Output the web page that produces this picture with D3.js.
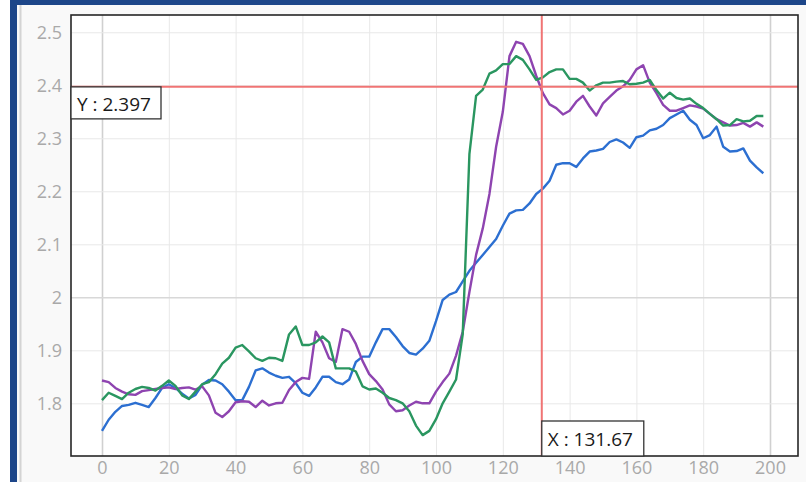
<!DOCTYPE html>
<html><head><meta charset="utf-8">
<script src="https://cdn.jsdelivr.net/npm/d3@7"></script>
<style>
html,body{margin:0;padding:0;background:#fff;}
svg{display:block;font-family:"Open Sans",sans-serif;}
</style></head>
<body><svg id="chart" width="806" height="482"></svg>
<script>
const xValues = d3.range(0, 200, 2);
const blueSeries = [1.748,1.769,1.784,1.795,1.797,1.801,1.797,1.793,1.810,1.829,1.836,1.829,1.818,1.809,1.816,1.835,1.844,1.843,1.836,1.822,1.806,1.806,1.831,1.862,1.866,1.858,1.852,1.848,1.850,1.838,1.820,1.814,1.830,1.850,1.850,1.840,1.836,1.845,1.878,1.888,1.888,1.915,1.940,1.940,1.925,1.908,1.895,1.892,1.903,1.918,1.955,1.995,2.005,2.010,2.030,2.050,2.065,2.080,2.095,2.110,2.135,2.158,2.164,2.165,2.177,2.195,2.205,2.220,2.250,2.253,2.253,2.246,2.262,2.275,2.277,2.280,2.293,2.298,2.292,2.282,2.302,2.305,2.315,2.318,2.325,2.338,2.345,2.352,2.335,2.325,2.300,2.306,2.322,2.284,2.275,2.276,2.281,2.258,2.245,2.234];
const purpleSeries = [1.843,1.840,1.829,1.822,1.817,1.816,1.823,1.825,1.827,1.829,1.830,1.827,1.829,1.830,1.826,1.832,1.815,1.782,1.774,1.785,1.802,1.804,1.803,1.793,1.805,1.796,1.800,1.801,1.825,1.840,1.848,1.846,1.935,1.915,1.885,1.878,1.940,1.935,1.912,1.880,1.855,1.842,1.826,1.798,1.785,1.787,1.796,1.803,1.800,1.800,1.822,1.840,1.856,1.890,1.935,2.010,2.080,2.130,2.195,2.284,2.350,2.455,2.482,2.478,2.455,2.418,2.385,2.364,2.357,2.345,2.352,2.369,2.380,2.360,2.343,2.366,2.378,2.390,2.398,2.410,2.430,2.438,2.405,2.385,2.363,2.352,2.352,2.357,2.362,2.360,2.356,2.346,2.336,2.330,2.324,2.325,2.329,2.322,2.330,2.322];
const greenSeries = [1.806,1.820,1.814,1.808,1.820,1.827,1.831,1.829,1.824,1.833,1.843,1.833,1.815,1.808,1.822,1.836,1.840,1.855,1.875,1.886,1.905,1.910,1.898,1.885,1.880,1.886,1.885,1.880,1.930,1.945,1.910,1.910,1.915,1.926,1.915,1.866,1.866,1.866,1.860,1.832,1.826,1.828,1.820,1.810,1.806,1.800,1.785,1.758,1.740,1.748,1.770,1.800,1.822,1.845,1.930,2.270,2.380,2.392,2.422,2.428,2.440,2.440,2.455,2.448,2.430,2.410,2.415,2.425,2.430,2.430,2.412,2.412,2.405,2.390,2.400,2.405,2.405,2.407,2.408,2.402,2.403,2.405,2.410,2.391,2.375,2.386,2.376,2.373,2.375,2.365,2.357,2.346,2.336,2.324,2.325,2.336,2.332,2.333,2.342,2.342];
const xTicks = [0,20,40,60,80,100,120,140,160,180,200];
const yTicks = [1.8,1.9,2.0,2.1,2.2,2.3,2.4,2.5];
const yTickLabels = ["1.8","1.9","2","2.1","2.2","2.3","2.4","2.5"];
const crossX = 131.67;
const crossY = 2.397;

const svg = d3.select("#chart");
const W = 806, H = 482;
const L = 71, R = 798, T = 15, B = 456;

// frame
svg.append("rect").attr("x",0).attr("y",0).attr("width",W).attr("height",H).attr("fill","#ffffff");
svg.append("rect").attr("x",17).attr("y",5).attr("width",W-17).attr("height",H-5).attr("fill","#f9f9f9");
svg.append("rect").attr("x",10).attr("y",0).attr("width",W-10).attr("height",5).attr("fill","#1d4689");
svg.append("rect").attr("x",10).attr("y",0).attr("width",7).attr("height",H).attr("fill","#1d4689");
svg.append("rect").attr("x",19.5).attr("y",5).attr("width",2).attr("height",H-5).attr("fill","#d4d4d4");

const x = d3.scaleLinear().domain([-9.28, 208.38]).range([L, R]);
const y = d3.scaleLinear().domain([1.7006, 2.5326]).range([B, T]);

svg.append("rect").attr("x",L).attr("y",T).attr("width",R-L).attr("height",B-T).attr("fill","#ffffff");

// grid
const gx = svg.append("g").attr("transform",`translate(0,${B})`)
  .call(d3.axisBottom(x).tickValues(xTicks).tickSize(-(B-T)).tickFormat(""));
gx.select(".domain").remove();
gx.selectAll("line").attr("stroke", d => (d===0||d===200) ? "#d0d0d0" : "#e8e8e8").attr("stroke-width", d => (d===0||d===200) ? 1.6 : 1);
const gy = svg.append("g").attr("transform",`translate(${L},0)`)
  .call(d3.axisLeft(y).tickValues(yTicks).tickSize(-(R-L)).tickFormat(""));
gy.select(".domain").remove();
gy.selectAll("line").attr("stroke", d => Math.abs(d-2)<1e-9 ? "#d8d8d8" : "#e8e8e8").attr("stroke-width", d => Math.abs(d-2)<1e-9 ? 1.4 : 1);

// tick labels
const ax = svg.append("g").attr("transform",`translate(0,${B})`)
  .call(d3.axisBottom(x).tickValues(xTicks).tickSize(0).tickPadding(5).tickFormat(d3.format("d")));
ax.select(".domain").remove();
ax.selectAll("text").attr("fill","#a9a9a9").attr("font-size","18px").attr("font-family","Open Sans, sans-serif");
const ay = svg.append("g").attr("transform",`translate(${L},0)`)
  .call(d3.axisLeft(y).tickValues(yTicks).tickSize(0).tickPadding(9).tickFormat((d,i)=>yTickLabels[i]));
ay.select(".domain").remove();
ay.selectAll("text").attr("fill","#a9a9a9").attr("font-size","18px").attr("font-family","Open Sans, sans-serif");

// lines
const line = d3.line().x((d,i)=>x(xValues[i])).y(d=>y(d));
const series = [
  {vals: blueSeries, color: "#2c6fd1"},
  {vals: purpleSeries, color: "#8e44b0"},
  {vals: greenSeries, color: "#2a9660"}
];
svg.append("defs").append("clipPath").attr("id","clip").append("rect").attr("x",L).attr("y",T).attr("width",R-L).attr("height",B-T);
const lg = svg.append("g").attr("clip-path","url(#clip)");
series.forEach(s => {
  lg.append("path").datum(s.vals).attr("d", line).attr("fill","none")
    .attr("stroke", s.color).attr("stroke-width", 2.4).attr("stroke-linejoin","round");
});

// crosshair
svg.append("line").attr("x1",x(crossX)).attr("x2",x(crossX)).attr("y1",T).attr("y2",B).attr("stroke","#f07474").attr("stroke-width",2);
svg.append("line").attr("x1",L).attr("x2",R).attr("y1",y(crossY)).attr("y2",y(crossY)).attr("stroke","#f07474").attr("stroke-width",2);

// plot border
svg.append("rect").attr("x",L).attr("y",T).attr("width",R-L).attr("height",B-T).attr("fill","none").attr("stroke","#262626").attr("stroke-width",1.6);

// labels
const yl = svg.append("g").attr("transform",`translate(${L},${y(crossY)})`);
yl.append("rect").attr("x",0).attr("y",0).attr("width",90).attr("height",32).attr("fill","#ffffff").attr("stroke","#333").attr("stroke-width",1.3);
yl.append("text").attr("x",6).attr("y",24).attr("fill","#1a1a1a").attr("font-size","19px").text("Y : " + crossY.toFixed(3));
const xl = svg.append("g").attr("transform",`translate(${x(crossX)},${B-35})`);
xl.append("rect").attr("x",0).attr("y",0).attr("width",102).attr("height",35).attr("fill","#ffffff").attr("stroke","#333").attr("stroke-width",1.3);
xl.append("text").attr("x",6).attr("y",25).attr("fill","#1a1a1a").attr("font-size","19px").text("X : " + crossX.toFixed(2));
</script></body></html>
